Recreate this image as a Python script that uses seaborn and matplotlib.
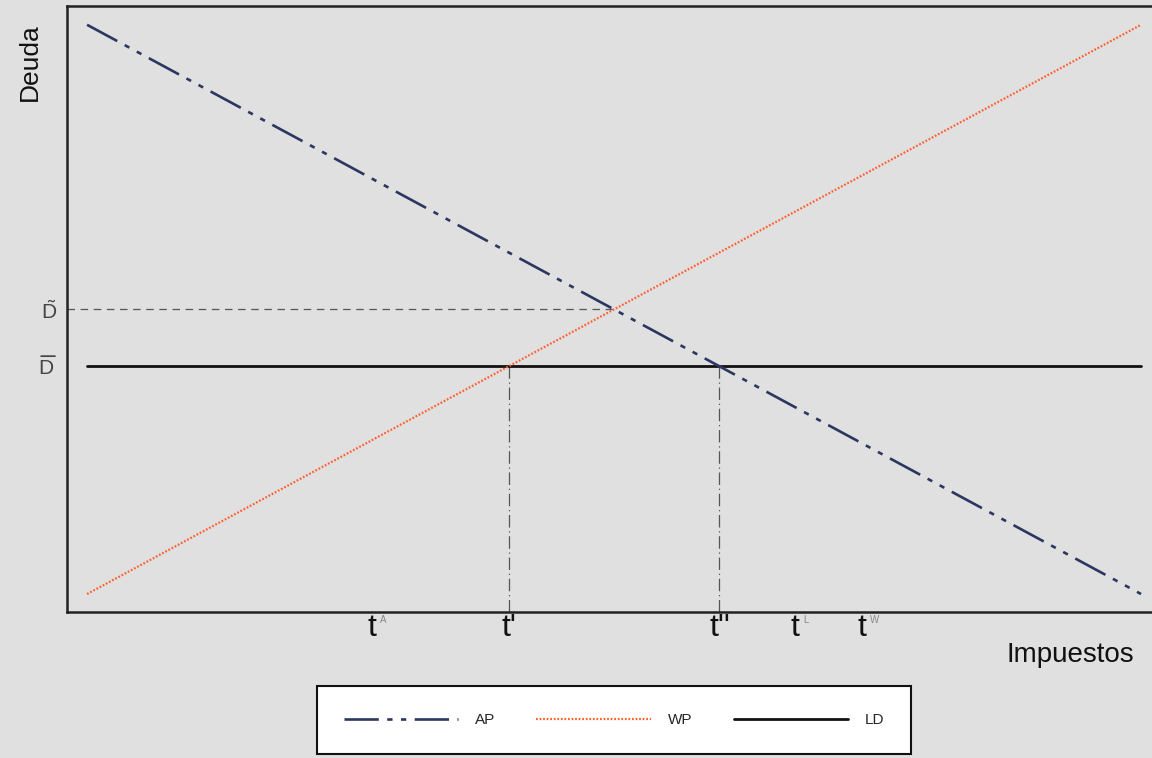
import matplotlib
matplotlib.use('Agg')
import matplotlib.pyplot as plt
import seaborn as sns
import pandas as pd

# Data for the debt / tax diagram
tax = [0, 100]
ap_debt = [100, 0]
wp_debt = [0, 100]
ld_level = 40
d_tilde = 50
tick_pos = [27, 40, 60, 67.2, 73.5]
tick_labels = ['t', "t'", "t''", 't', 't']
tick_sups = ['A', '', '', 'L', 'W']
ytick_pos = [ld_level, d_tilde]
ytick_labels = [r'$\widebar{\mathrm{D}}$', r'$\tilde{\mathrm{D}}$']

bg = '#e0e0e0'
sns.set_theme(style='white', rc={'axes.facecolor': bg, 'figure.facecolor': bg})
plt.rcParams['font.family'] = ['Liberation Sans', 'DejaVu Sans']
plt.rcParams['mathtext.fontset'] = 'custom'
plt.rcParams['mathtext.rm'] = 'Liberation Sans'
plt.rcParams['mathtext.it'] = 'Liberation Sans:italic'

df = pd.DataFrame({'Impuestos': tax + tax + tax,
                   'Deuda': ap_debt + wp_debt + [ld_level, ld_level],
                   'serie': ['AP'] * 2 + ['WP'] * 2 + ['LD'] * 2})

fig = plt.figure(figsize=(11.52, 7.58), dpi=100)
ax = fig.add_axes([0.0582, 0.1926, 0.9418, 0.7995])

xmin, xmax = -1.9, 101.04
ymin, ymax = -3.16, 103.3

# reference lines
ax.plot([xmin, 50], [d_tilde, d_tilde], color='#555555', lw=0.9, dashes=(6, 4.5), zorder=1)
for xv in [40, 60]:
    ax.plot([xv, xv], [ymin, ld_level], color='#555555', lw=0.9, dashes=(10, 3, 1, 3), zorder=1)

sns.lineplot(data=df[df.serie == 'AP'], x='Impuestos', y='Deuda', ax=ax, color='#2b3760',
             lw=1.9, dashes=False, label='AP', zorder=3).lines[-1].set_dashes((13, 3.2, 2, 3.2, 2, 3.2))
sns.lineplot(data=df[df.serie == 'WP'], x='Impuestos', y='Deuda', ax=ax, color='#ff6030',
             lw=1.6, label='WP', zorder=4).lines[-1].set_dashes((0.8, 0.8))
sns.lineplot(data=df[df.serie == 'LD'], x='Impuestos', y='Deuda', ax=ax, color='#111111',
             lw=2.0, label='LD', zorder=2)

ax.set_xlim(xmin, xmax)
ax.set_ylim(ymin, ymax)
ax.set_xlabel('')
ax.set_ylabel('')

ax.set_xticks(tick_pos)
ax.set_xticklabels(tick_labels, fontsize=23, color='#111111')
ax.set_yticks(ytick_pos)
ax.set_yticklabels(ytick_labels, fontsize=15, color='#444444')
ax.tick_params(axis='x', length=0, pad=1)
ax.tick_params(axis='y', length=0, pad=7)

for p, s in zip(tick_pos, tick_sups):
    if s:
        ax.annotate(s, xy=(p, 0), xycoords=('data', 'axes fraction'), xytext=(6, -2),
                    textcoords='offset points', fontsize=7, color='#888888', va='top', ha='left')

for side in ['left', 'bottom', 'top']:
    ax.spines[side].set_color('#222222')
    ax.spines[side].set_linewidth(1.8)
ax.spines['right'].set_visible(False)

fig.text(30 / 1152, 1 - 62 / 758, 'Deuda', rotation=90, fontsize=19, ha='center', va='center', color='#111111')
fig.text(1070 / 1152, 1 - 655 / 758, 'Impuestos', fontsize=20, ha='center', va='center', color='#111111')

handles, labels = ax.get_legend_handles_labels()
ax.get_legend().remove()
leg = fig.legend(handles, labels, loc='center', bbox_to_anchor=(614 / 1152, 1 - 720 / 758), ncol=3,
                 fontsize=11, handlelength=7.5, handletextpad=1.1, columnspacing=2.7,
                 borderpad=1.75, frameon=True, fancybox=False, framealpha=1)
leg.get_frame().set_facecolor('white')
leg.get_frame().set_edgecolor('#111111')
leg.get_frame().set_linewidth(1.5)

plt.savefig('out.png', dpi=100, facecolor=bg)
print('done')
